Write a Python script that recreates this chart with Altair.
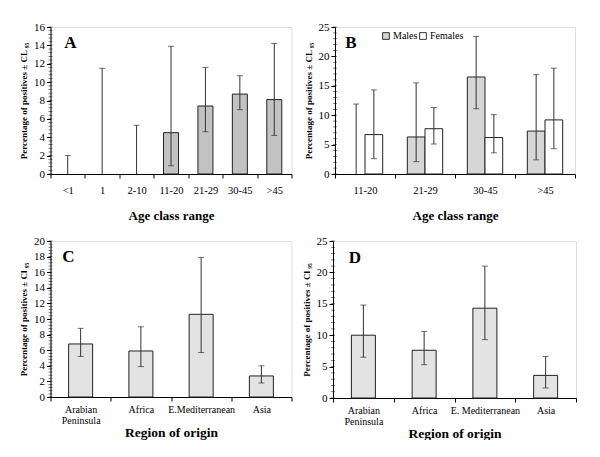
import altair as alt
import pandas as pd

FONT = "Times New Roman, Liberation Serif, serif"

# Panel A
age_a = ["<1", "1", "2-10", "11-20", "21-29", "30-45", ">45"]
pct_a = [0, 0, 0, 4.5, 7.4, 8.7, 8.1]
lo_a = [0, 0, 0, 0.9, 4.6, 7.0, 4.2]
hi_a = [2.0, 11.5, 5.3, 13.9, 11.6, 10.7, 14.2]

# Panel B
age_b = ["11-20", "21-29", "30-45", ">45"]
sexes = ["Males", "Females"]
males_b = [0, 6.3, 16.5, 7.3]
males_lo = [0, 2.1, 11.1, 2.4]
males_hi = [11.9, 15.5, 23.4, 16.9]
fem_b = [6.7, 7.7, 6.2, 9.2]
fem_lo = [2.6, 5.1, 3.6, 4.3]
fem_hi = [14.3, 11.3, 10.1, 18.0]

# Panels C, D
regions_c = ["Arabian Peninsula", "Africa", "E.Mediterranean", "Asia"]
regions_d = ["Arabian Peninsula", "Africa", "E. Mediterranean", "Asia"]
pct_c = [6.8, 5.9, 10.6, 2.7]
lo_c = [5.2, 3.9, 5.7, 1.8]
hi_c = [8.8, 9.0, 17.9, 4.0]
pct_d = [10.0, 7.6, 14.3, 3.6]
lo_d = [6.5, 5.3, 9.3, 1.6]
hi_d = [14.8, 10.6, 21.0, 6.6]

ytitle_ab = "Percentage of positives ± CL ₉₅"
ytitle_cd = "Percentage of positives ± Cl ₉₅"


def yaxis(title, maxv, step):
    return alt.Axis(title=title, values=list(range(0, maxv + 1, step)), grid=False,
                    domainColor="black", tickColor="black", tickSize=4,
                    labelFont=FONT, labelFontSize=11, labelColor="black", labelPadding=2,
                    titleFont=FONT, titleFontSize=9, titleFontWeight="bold", titleColor="black",
                    minExtent=19, maxExtent=19, titlePadding=3)


def xaxis(title, lpad=7, tpad=14, lsize=10.5, tsize=13, expr=None):
    kw = dict(title=title, labelAngle=0, tickBand="extent", tickSize=4, grid=False,
              domainColor="black", tickColor="black",
              labelFont=FONT, labelFontSize=lsize, labelColor="black", labelPadding=lpad,
              labelLineHeight=11,
              titleFont=FONT, titleFontSize=tsize, titleFontWeight="bold", titleColor="black",
              titlePadding=tpad)
    if expr:
        kw["labelExpr"] = expr
    return alt.Axis(**kw)


def minor_layer(maxv, step, y_enc_fn):
    vals = []
    v = 0.0
    while v <= maxv + 1e-9:
        vals.append(round(v, 2))
        v += step
    dfm = pd.DataFrame({"pct": vals})
    return alt.Chart(dfm).mark_tick(size=4, thickness=0.7, color="black").encode(
        x=alt.value(0), y=y_enc_fn("pct"))


def letter(t, px, py):
    return alt.Chart(pd.DataFrame({"t": [t]})).mark_text(
        font=FONT, fontSize=17, fontWeight="bold", color="black", align="center", baseline="middle"
    ).encode(text="t:N", x=alt.value(px), y=alt.value(py))


# ---------- Panel A ----------
df_a = pd.DataFrame({"age": age_a, "pct": pct_a, "lo": lo_a, "hi": hi_a})
xa = alt.X("age:N", sort=age_a, scale=alt.Scale(paddingInner=0, paddingOuter=0),
           axis=xaxis("Age class range"))


def ya(f):
    return alt.Y(f"{f}:Q", scale=alt.Scale(domain=[0, 16], nice=False),
                 axis=yaxis(ytitle_ab, 16, 2))


base_a = alt.Chart(df_a)
panel_a = alt.layer(
    base_a.mark_bar(width=15, color="#c2c2c2", stroke="#222", strokeWidth=1).encode(x=xa, y=ya("pct")).transform_filter("datum.pct > 0"),
    base_a.mark_rule(color="#333").encode(x=xa, y=ya("lo"), y2="hi:Q"),
    base_a.mark_tick(size=6, thickness=1, color="#333").encode(x=xa, y=ya("hi")),
    base_a.mark_tick(size=6, thickness=1, color="#333").encode(x=xa, y=ya("lo")).transform_filter("datum.lo > 0"),
    minor_layer(16, 0.4, ya),
    letter("A", 20, 16),
).properties(width=241, height=147)

# ---------- Panel B ----------
rows = []
for i, a in enumerate(age_b):
    rows.append({"age": a, "sex": "Males", "pct": males_b[i], "lo": males_lo[i], "hi": males_hi[i]})
    rows.append({"age": a, "sex": "Females", "pct": fem_b[i], "lo": fem_lo[i], "hi": fem_hi[i]})
df_b = pd.DataFrame(rows)
xb = alt.X("age:N", sort=age_b, scale=alt.Scale(paddingInner=0, paddingOuter=0),
           axis=xaxis("Age class range"))
xo = alt.XOffset("sex:N", sort=sexes, scale=alt.Scale(paddingInner=0, paddingOuter=0.695))


def yb(f):
    return alt.Y(f"{f}:Q", scale=alt.Scale(domain=[0, 25], nice=False),
                 axis=yaxis(ytitle_ab, 25, 5))


base_b = alt.Chart(df_b)
panel_b = alt.layer(
    base_b.mark_bar(stroke="#222", strokeWidth=1).encode(
        x=xb, xOffset=xo, y=yb("pct"),
        color=alt.Color("sex:N", sort=sexes,
                        scale=alt.Scale(domain=sexes, range=["#d6d6d6", "#ffffff"]),
                        legend=alt.Legend(title=None, orient="none", legendX=46, legendY=4,
                                          direction="horizontal", symbolType="square",
                                          symbolSize=45, symbolStrokeColor="black",
                                          symbolStrokeWidth=0.8, labelFont=FONT, labelFontSize=10,
                                          labelColor="black", columnPadding=0, labelOffset=2))
    ).transform_filter("datum.pct > 0"),
    base_b.mark_rule(color="#333").encode(x=xb, xOffset=xo, y=yb("lo"), y2="hi:Q"),
    base_b.mark_tick(size=6, thickness=1, color="#333").encode(x=xb, xOffset=xo, y=yb("hi")),
    base_b.mark_tick(size=6, thickness=1, color="#333").encode(x=xb, xOffset=xo, y=yb("lo")).transform_filter("datum.lo > 0"),
    minor_layer(25, 1, yb),
    letter("B", 16, 16),
).properties(width=240, height=147)

# ---------- Panels C and D ----------
multi = "datum.label == 'Arabian Peninsula' ? ['Arabian', 'Peninsula'] : datum.label"


def region_panel(regs, pct, lo, hi, maxv, step, minor, ttl, let, lx, ly, w, h):
    df = pd.DataFrame({"reg": regs, "pct": pct, "lo": lo, "hi": hi})
    xr = alt.X("reg:N", sort=regs, scale=alt.Scale(paddingInner=0, paddingOuter=0),
               axis=xaxis("Region of origin", lpad=3, tpad=0, lsize=10, tsize=13.5, expr=multi))

    def yr(f):
        return alt.Y(f"{f}:Q", scale=alt.Scale(domain=[0, maxv], nice=False),
                     axis=yaxis(ttl, maxv, step))

    base = alt.Chart(df)
    return alt.layer(
        base.mark_bar(width=24, color="#e3e3e3", stroke="#222", strokeWidth=1).encode(x=xr, y=yr("pct")),
        base.mark_rule(color="#333").encode(x=xr, y=yr("lo"), y2="hi:Q"),
        base.mark_tick(size=6, thickness=1, color="#333").encode(x=xr, y=yr("hi")),
        base.mark_tick(size=6, thickness=1, color="#333").encode(x=xr, y=yr("lo")),
        minor_layer(maxv, minor, yr),
        letter(let, lx, ly),
    ).properties(width=w, height=h)


panel_c = region_panel(regions_c, pct_c, lo_c, hi_c, 20, 2, 0.4, ytitle_cd, "C", 18, 16, 241, 156)
panel_d = region_panel(regions_d, pct_d, lo_d, hi_d, 25, 5, 1, ytitle_cd, "D", 22, 17, 243, 157)

row1 = alt.hconcat(panel_a, panel_b, spacing=10.5).resolve_scale(color="independent").resolve_legend(color="independent")
row2 = alt.hconcat(panel_c, panel_d, spacing=8.5)
chart = alt.vconcat(row1, row2, spacing=11).properties(
    padding={"left": 10.5, "top": 12, "right": 0, "bottom": 0}
).configure_view(stroke=None).configure(background="white")

chart.save("out.html", embed_options={"renderer": "svg", "actions": False})
